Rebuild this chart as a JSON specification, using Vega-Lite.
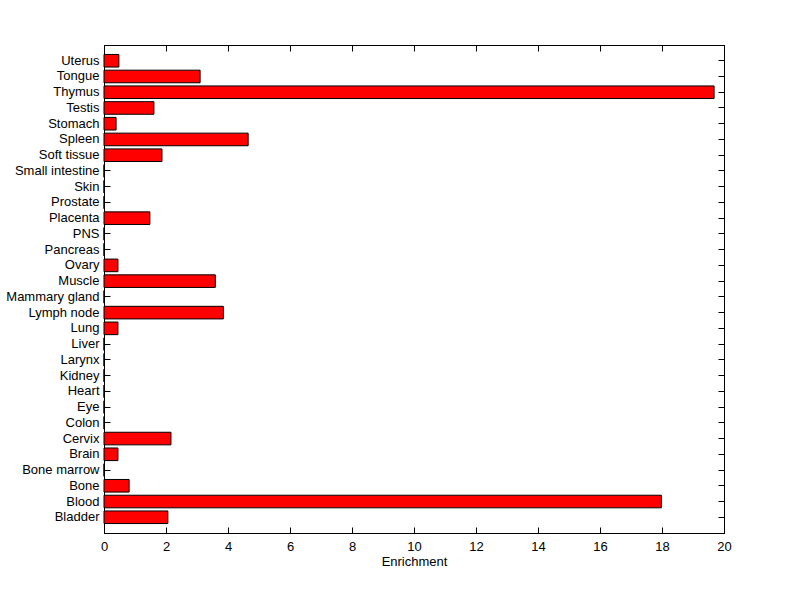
{
  "$schema": "https://vega.github.io/schema/vega-lite/v6.json",
  "width": 620,
  "height": 488,
  "autosize": "none",
  "padding": {"left": 104, "top": 45, "right": 76, "bottom": 66},
  "background": "white",
  "config": {
    "view": {"stroke": "black", "strokeWidth": 1},
    "font": "Liberation Sans",
    "axis": {
      "labelFont": "Liberation Sans",
      "labelFontSize": 13,
      "labelColor": "black",
      "labelFlush": false,
      "labelOverlap": false,
      "titleFont": "Liberation Sans",
      "titleFontSize": 13,
      "titleFontWeight": "normal",
      "titleColor": "black",
      "domainColor": "black",
      "tickColor": "black",
      "grid": false
    }
  },
  "data": {
    "values": [
      {"tissue": "Uterus", "enrichment": 0.48},
      {"tissue": "Tongue", "enrichment": 3.1},
      {"tissue": "Thymus", "enrichment": 19.68},
      {"tissue": "Testis", "enrichment": 1.61},
      {"tissue": "Stomach", "enrichment": 0.39},
      {"tissue": "Spleen", "enrichment": 4.65},
      {"tissue": "Soft tissue", "enrichment": 1.87},
      {"tissue": "Small intestine", "enrichment": 0},
      {"tissue": "Skin", "enrichment": 0},
      {"tissue": "Prostate", "enrichment": 0},
      {"tissue": "Placenta", "enrichment": 1.48},
      {"tissue": "PNS", "enrichment": 0},
      {"tissue": "Pancreas", "enrichment": 0},
      {"tissue": "Ovary", "enrichment": 0.45},
      {"tissue": "Muscle", "enrichment": 3.59},
      {"tissue": "Mammary gland", "enrichment": 0},
      {"tissue": "Lymph node", "enrichment": 3.85},
      {"tissue": "Lung", "enrichment": 0.45},
      {"tissue": "Liver", "enrichment": 0},
      {"tissue": "Larynx", "enrichment": 0},
      {"tissue": "Kidney", "enrichment": 0},
      {"tissue": "Heart", "enrichment": 0},
      {"tissue": "Eye", "enrichment": 0},
      {"tissue": "Colon", "enrichment": 0},
      {"tissue": "Cervix", "enrichment": 2.16},
      {"tissue": "Brain", "enrichment": 0.45},
      {"tissue": "Bone marrow", "enrichment": 0},
      {"tissue": "Bone", "enrichment": 0.81},
      {"tissue": "Blood", "enrichment": 17.98},
      {"tissue": "Bladder", "enrichment": 2.06}
    ]
  },
  "layer": [
    {
      "mark": {"type": "bar", "fill": "#FF0000", "stroke": "black", "strokeWidth": 1},
      "encoding": {
        "y": {
          "field": "tissue", "type": "nominal", "sort": null,
          "scale": {"paddingInner": 0.2, "paddingOuter": 0.6},
          "axis": {"orient": "left", "title": null, "tickSize": -6, "labelPadding": 11, "domain": true}
        },
        "x": {
          "field": "enrichment", "type": "quantitative",
          "scale": {"domain": [0, 20], "nice": false},
          "axis": {"orient": "bottom", "title": "Enrichment", "tickSize": -6, "labelPadding": 13, "values": [0,2,4,6,8,10,12,14,16,18,20], "titlePadding": 2}
        }
      }
    },
    {
      "mark": {"type": "bar", "opacity": 0},
      "encoding": {
        "y": {
          "field": "tissue", "type": "nominal", "sort": null,
          "axis": {"orient": "right", "title": null, "labels": false, "tickSize": -6, "domain": true}
        },
        "x": {
          "field": "enrichment", "type": "quantitative",
          "axis": {"orient": "top", "title": null, "labels": false, "tickSize": -6, "values": [0,2,4,6,8,10,12,14,16,18,20]}
        }
      }
    }
  ],
  "resolve": {"axis": {"x": "independent", "y": "independent"}}
}
